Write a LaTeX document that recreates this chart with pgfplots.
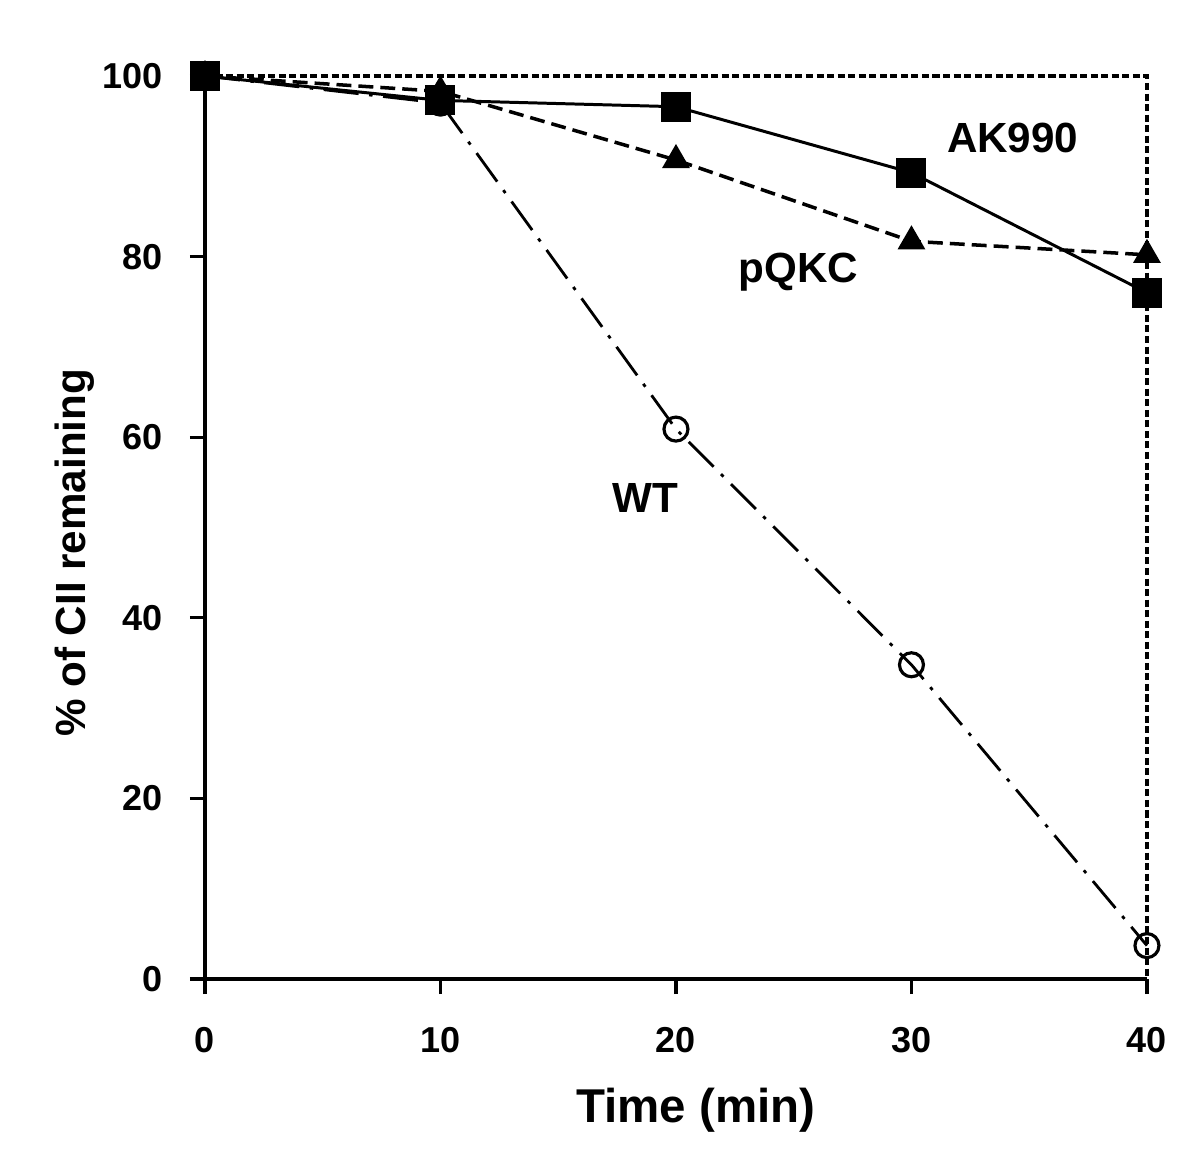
\documentclass[border=0pt]{standalone}
\usepackage{pgfplots}
\pgfplotsset{compat=1.18}
\usepackage{fontspec}
\setmainfont{Liberation Sans}
\begin{document}
\begin{tikzpicture}
\begin{axis}[
  scale only axis,
  width=18.84cm, height=18.06cm,
  xmin=0, xmax=40, ymin=0, ymax=100,
  axis x line*=bottom, axis y line*=left,
  axis line style={line width=2.2pt, -},
  xtick={0,10,20,30,40}, ytick={0,20,40,60,80,100},
  tick align=outside, major tick length=0.3cm,
  tick style={line width=1.8pt, black},
  /pgf/number format/assume math mode=true,
  ticklabel style={font=\fontsize{20.5}{24}\selectfont\bfseries},
  yticklabel style={xshift=-0.42cm},
  xticklabel style={yshift=-0.55cm},
  xlabel={Time (min)},
  ylabel={\% of CII remaining},
  xlabel style={font=\fontsize{27}{30}\selectfont\bfseries, at={(axis description cs:0.521,-0.145)}, anchor=center},
  ylabel style={font=\fontsize{24}{28}\selectfont\bfseries, at={(axis description cs:-0.138,0.472)}, anchor=center, rotate=0},
  clip=false,
]
% frame on top and right
\draw[line width=2pt, dash pattern=on 4pt off 2pt] (rel axis cs:0,1) -| (rel axis cs:1,0);

% WT
\addplot[black, line width=1.6pt, dash pattern=on 20pt off 6pt on 2pt off 6pt,
  mark=o, mark size=0.24cm, mark options={solid, line width=1.8pt, fill=white}]
  coordinates {(0,100) (10,97) (20,60.9) (30,34.8) (40,3.7)};
% pQKC
\addplot[black, line width=2pt, dash pattern=on 8.5pt off 4pt,
  mark=triangle*, mark size=0.25cm, mark options={solid}]
  coordinates {(0,100) (10,98.3) (20,90.7) (30,81.7) (40,80.2)};
% AK990
\addplot[black, line width=1.7pt,
  mark=square*, mark size=0.27cm, mark options={solid}]
  coordinates {(0,100) (10,97.3) (20,96.6) (30,89.3) (40,76.0)};

\node[font=\fontsize{24}{28}\selectfont\bfseries] at (axis cs:34.3,93.1) {AK990};
\node[font=\fontsize{24}{28}\selectfont\bfseries] at (axis cs:25.2,78.3) {pQKC};
\node[font=\fontsize{24}{28}\selectfont\bfseries] at (axis cs:18.7,53.3) {WT};

\coordinate (bl) at (rel axis cs:-0.2176,-0.2137);
\coordinate (tr) at (rel axis cs:1.0563,1.0842);
\end{axis}
\pgfresetboundingbox
\useasboundingbox (bl) rectangle (tr);
\end{tikzpicture}
\end{document}
